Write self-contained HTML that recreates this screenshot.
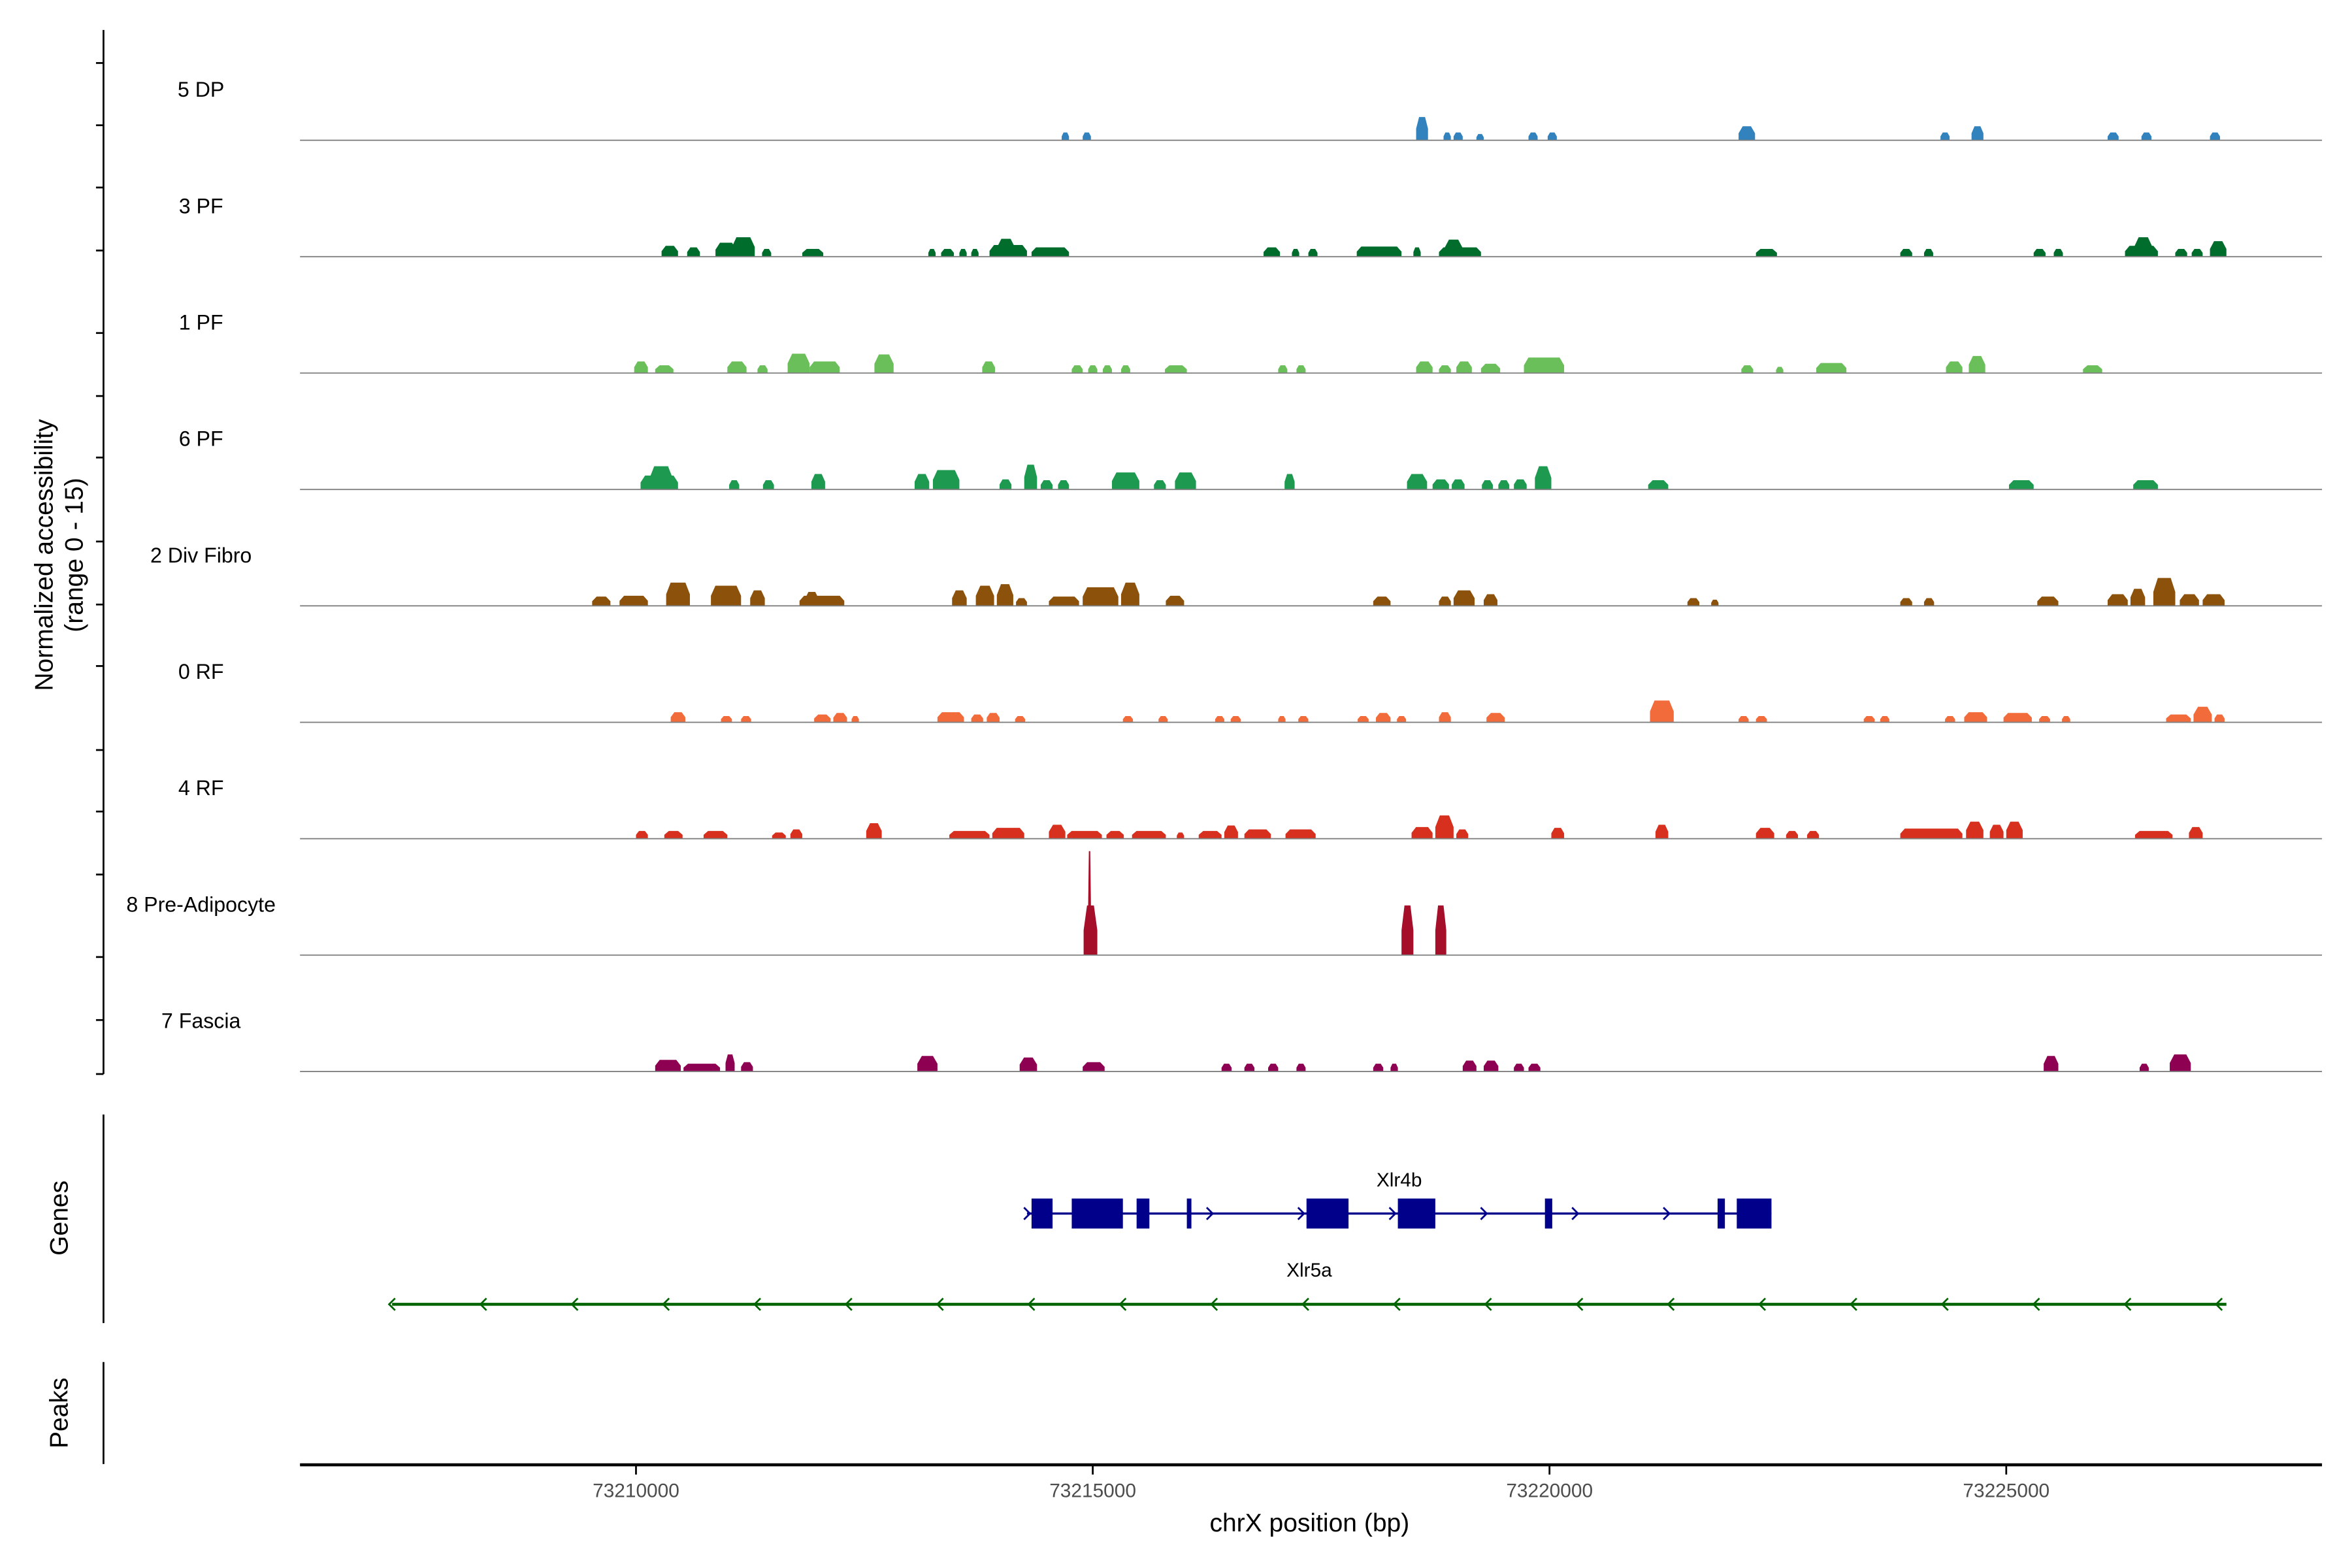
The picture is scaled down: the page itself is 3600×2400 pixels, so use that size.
<!DOCTYPE html>
<html><head><meta charset="utf-8"><style>
html,body{margin:0;padding:0;background:#fff;}
svg{display:block;font-family:"Liberation Sans",Arial,sans-serif;}
</style></head><body>
<svg id="chart" width="3600" height="2400" viewBox="0 0 1568 1045.3" preserveAspectRatio="none" xmlns="http://www.w3.org/2000/svg">
<rect x="0" y="0" width="1568" height="1046" fill="#fff"/>
<g id="tracks"></g>
<line x1="69" y1="20" x2="69" y2="716" stroke="#000" stroke-width="1.2"/>
<g id="yticks"></g>
<text transform="translate(35,370) rotate(-90)" text-anchor="middle" font-size="17">Normalized accessibility</text>
<text transform="translate(55,370) rotate(-90)" text-anchor="middle" font-size="17">(range 0 - 15)</text>
<line x1="69" y1="743" x2="69" y2="882" stroke="#000" stroke-width="1.2"/>
<text transform="translate(45,812) rotate(-90)" text-anchor="middle" font-size="17">Genes</text>
<line x1="69" y1="908" x2="69" y2="976" stroke="#000" stroke-width="1.2"/>
<text transform="translate(45,942) rotate(-90)" text-anchor="middle" font-size="17">Peaks</text>
<g id="genes"></g>
<line x1="200" y1="976.5" x2="1548" y2="976.5" stroke="#000" stroke-width="2"/>
<g id="xticks"></g>
<text x="873" y="1021" text-anchor="middle" font-size="17">chrX position (bp)</text>
</svg>
<script>
// ---- data (positions in kb relative to 73210000, heights in normalized accessibility 0-15) ----
const trackNames = ["5 DP","3 PF","1 PF","6 PF","2 Div Fibro","0 RF","4 RF","8 Pre-Adipocyte","7 Fascia"];
const trackColors = ["#3182bd","#006d2c","#6abf5a","#1d9a50","#8c510a","#f26b3a","#d7301f","#a50f2a","#8e0152"];
const xTickValues = [73210000,73215000,73220000,73225000];
const xTickLabels = ["73210000","73215000","73220000","73225000"];
const dp5 = [[4.66,4.74,1],[4.89,4.98,1],[8.54,8.67,3],[8.84,8.92,1],[8.95,9.05,1],[9.2,9.28,0.8],[9.77,9.87,1],[9.98,10.08,1],[12.07,12.25,1.8],[14.28,14.38,1],[14.62,14.75,1.8],[16.11,16.23,1],[16.48,16.59,1],[17.23,17.34,1]];
const pf3 = [[0.28,0.46,1.4],[0.56,0.70,1.2],[0.87,1.1,1.8],[1.05,1.30,2.5],[1.38,1.48,1],[1.82,2.05,1],[3.20,3.28,1],[3.34,3.48,1],[3.54,3.62,1],[3.67,3.75,1],[3.87,4.28,1.5],[3.95,4.15,2.3],[4.33,4.74,1.2],[6.87,7.05,1.2],[7.18,7.26,1],[7.36,7.46,1],[7.89,8.38,1.3],[8.51,8.59,1.2],[8.79,9.25,1.2],[8.85,9.05,2.2],[12.26,12.49,1],[13.84,13.97,1],[14.10,14.20,1],[15.30,15.43,1],[15.52,15.62,1],[16.30,16.66,1.4],[16.40,16.60,2.5],[16.85,16.98,1],[17.03,17.15,1],[17.23,17.41,2]];
const pf1 = [[-0.02,0.13,1.5],[0.21,0.41,1],[1.00,1.21,1.5],[1.33,1.44,1],[1.66,1.90,2.5],[1.90,2.23,1.5],[2.61,2.82,2.4],[3.79,3.93,1.5],[4.77,4.89,1],[4.95,5.05,1],[5.11,5.21,1],[5.31,5.41,1],[5.79,6.03,1],[7.03,7.13,1],[7.23,7.33,1],[8.54,8.72,1.5],[8.79,8.92,1],[8.98,9.15,1.5],[9.25,9.46,1.2],[9.72,10.16,2],[12.10,12.23,1],[12.48,12.56,0.8],[12.92,13.25,1.3],[14.34,14.52,1.5],[14.59,14.77,2.2],[15.84,16.05,1]];
const pf6 = [[0.05,0.46,1.8],[0.15,0.40,3],[1.02,1.13,1.2],[1.39,1.51,1.2],[1.92,2.07,2],[3.05,3.21,2],[3.25,3.54,2.5],[3.98,4.11,1.3],[4.25,4.39,3.2],[4.43,4.56,1.2],[4.62,4.74,1.2],[5.21,5.51,2.2],[5.67,5.80,1.2],[5.90,6.13,2.2],[7.10,7.21,2],[8.44,8.66,2],[8.72,8.90,1.3],[8.93,9.07,1.3],[9.26,9.38,1.2],[9.44,9.56,1.2],[9.61,9.75,1.3],[9.84,10.02,3],[11.08,11.30,1.2],[15.03,15.30,1.2],[16.39,16.66,1.2]];
const divFibro2 = [[-0.48,-0.28,1.2],[-0.18,0.13,1.3],[0.33,0.59,3],[0.82,1.15,2.6],[1.25,1.41,2],[1.79,2.28,1.3],[1.85,2.0,1.8],[3.46,3.62,2],[3.72,3.92,2.6],[3.95,4.13,2.8],[4.16,4.28,1],[4.52,4.85,1.2],[4.89,5.28,2.4],[5.31,5.51,3],[5.80,6.00,1.3],[8.07,8.26,1.2],[8.79,8.92,1.2],[8.95,9.18,2],[9.28,9.43,1.5],[11.51,11.64,1],[11.77,11.85,0.8],[13.84,13.97,1],[14.10,14.21,1],[15.34,15.57,1.2],[16.11,16.33,1.5],[16.36,16.52,2.2],[16.61,16.85,3.6],[16.90,17.11,1.5],[17.15,17.39,1.5]];
const rf0 = [[0.38,0.54,1.3],[0.93,1.05,0.8],[1.15,1.26,0.8],[1.95,2.13,1],[2.16,2.31,1.2],[2.36,2.44,0.8],[3.30,3.59,1.3],[3.67,3.80,1],[3.84,3.98,1.2],[4.15,4.26,0.8],[5.33,5.44,0.8],[5.72,5.82,0.8],[6.34,6.44,0.8],[6.51,6.62,0.8],[7.03,7.11,0.8],[7.25,7.36,0.8],[7.90,8.02,0.8],[8.10,8.26,1.2],[8.33,8.43,0.8],[8.79,8.92,1.3],[9.31,9.51,1.2],[11.10,11.36,2.8],[12.07,12.18,0.8],[12.26,12.38,0.8],[13.44,13.56,0.8],[13.62,13.72,0.8],[14.33,14.44,0.8],[14.54,14.79,1.3],[14.97,15.28,1.2],[15.36,15.48,0.8],[15.61,15.70,0.8],[16.75,17.02,1],[17.05,17.25,2],[17.28,17.39,1]];
const rf4 = [[0,0.13,1],[0.31,0.51,1],[0.74,1.00,1],[1.49,1.64,0.8],[1.69,1.82,1.2],[2.52,2.69,2],[3.43,3.87,1],[3.90,4.25,1.4],[4.52,4.70,1.8],[4.72,5.10,1],[5.15,5.34,1],[5.43,5.80,1],[5.92,6.00,0.8],[6.16,6.41,1],[6.44,6.59,1.7],[6.66,6.95,1.2],[7.11,7.44,1.2],[8.49,8.72,1.5],[8.75,8.95,3],[8.98,9.11,1.2],[10.02,10.16,1.4],[11.16,11.30,1.8],[12.26,12.46,1.4],[12.59,12.72,1],[12.82,12.95,1],[13.84,14.52,1.3],[14.56,14.75,2.2],[14.82,14.97,1.8],[15.00,15.18,2.2],[16.41,16.82,1],[17.00,17.15,1.5]];
const preAdipocyte8 = [[4.90,5.05,6.4],[4.95,4.98,13.4],[8.38,8.51,6.4],[8.75,8.87,6.4]];
const fascia7 = [[0.21,0.49,1.5],[0.52,0.92,1],[0.98,1.08,2.2],[1.15,1.28,1.2],[3.08,3.30,2],[4.20,4.39,1.8],[4.89,5.13,1.2],[6.41,6.52,1],[6.66,6.77,1],[6.92,7.03,1],[7.23,7.33,1],[8.07,8.18,1],[8.26,8.34,1],[9.05,9.20,1.4],[9.28,9.44,1.4],[9.61,9.72,1],[9.77,9.90,1],[15.41,15.57,2],[16.46,16.56,1],[16.79,17.02,2.2]];
const trackData = [dp5,pf3,pf1,pf6,divFibro2,rf0,rf4,preAdipocyte8,fascia7];
const xlr4bExons = [[4.33,4.56],[4.77,5.33],[5.48,5.62],[6.03,6.08],[7.34,7.80],[8.34,8.75],[9.95,10.03],[11.84,11.92],[12.05,12.43]];
const xlr4bSpan = [4.28,12.43];
const xlr5aSpan = [-2.67,17.41];

// ---- scales ----
const NS = "http://www.w3.org/2000/svg";
function xScale(bp){ return 424 + (bp - 73210000) * (1033 - 424) / 10000; }
function xKb(kb){ return xScale(73210000 + kb * 1000); }
const baseline0 = 93.5, trackStep = 77.6, pxPerUnit = 5.17;
function yScale(i, v){ return baseline0 + trackStep * i - v * pxPerUnit; }
function mk(tag, attrs, parent){ const e = document.createElementNS(NS, tag); for (const k in attrs) e.setAttribute(k, attrs[k]); parent.appendChild(e); return e; }

// ---- tracks ----
const tracksG = document.getElementById('tracks');
trackNames.forEach((name, i) => {
  const g = mk('g', {}, tracksG);
  
  
  const by = yScale(i, 0);
  trackData[i].forEach(p => {
    const x0 = xKb(p[0]), x1 = xKb(p[1]), yt = yScale(i, p[2]);
    const w = x1 - x0, ins = Math.min(w * 0.25, 3), ym = yScale(i, p[2] * 0.5);
    const poly = mk('polygon', {points: `${x0},${by} ${x0},${ym} ${x0+ins},${yt} ${x1-ins},${yt} ${x1},${ym} ${x1},${by}`, fill: trackColors[i]}, g);
    
    
  });
  const bl = mk('line', {x1: 200, x2: 1548, y1: by, y2: by, stroke: '#808080', 'stroke-width': 0.8}, g);
  
  
  const lab = mk('text', {x: 134, y: yScale(i, 0) - 29, 'text-anchor': 'middle', 'font-size': 14}, g);
  lab.textContent = name;
  
  
});

// ---- y ticks (decorative) ----
const ytG = document.getElementById('yticks');
[42,83.5,125,167,222,264,305,361,403,444,500,541,583,638,680,716].forEach(y => {
  const t = mk('line', {x1: 64, x2: 69, y1: y, y2: y, stroke: '#000', 'stroke-width': 1.2}, ytG);
  
  
});

// ---- x ticks ----
const xtG = document.getElementById('xticks');
xTickValues.forEach((v, i) => {
  const x = xScale(v);
  const t = mk('line', {x1: x, x2: x, y1: 977, y2: 983, stroke: '#000', 'stroke-width': 1.2}, xtG);
  
  
  const l = mk('text', {x: x, y: 998, 'text-anchor': 'middle', 'font-size': 13, fill: '#4d4d4d'}, xtG);
  l.textContent = xTickLabels[i];
  
  
});

// ---- genes ----
const gG = document.getElementById('genes');
function drawGene(name, span, exons, y, color, dir, labelY){
  const g = mk('g', {}, gG);
  
  
  mk('line', {x1: xKb(span[0]), x2: xKb(span[1]), y1: y, y2: y, stroke: color, 'stroke-width': dir > 0 ? 1.5 : 2}, g);
  exons.forEach(e => {
    const r = mk('rect', {x: xKb(e[0]), y: y - 10, width: xKb(e[1]) - xKb(e[0]), height: 20, fill: color}, g);
    
    
  });
  for (let k = span[0]; k <= span[1] + 0.01; k += 1) {
    if (exons.some(e => k > e[0] + 0.02 && k < e[1] - 0.02)) continue;
    const x = xKb(k);
    const a = mk('polyline', {points: dir > 0 ? `${x-2},${y-4} ${x+2},${y} ${x-2},${y+4}` : `${x+2},${y-4} ${x-2},${y} ${x+2},${y+4}`, fill: 'none', stroke: color, 'stroke-width': 1.2}, g);
    
    
  }
  const t = mk('text', {x: (xKb(span[0]) + xKb(span[1])) / 2, y: labelY, 'text-anchor': 'middle', 'font-size': 13}, g);
  t.textContent = name;
  
  
}
drawGene('Xlr4b', xlr4bSpan, xlr4bExons, 809, '#00008b', 1, 791);
drawGene('Xlr5a', xlr5aSpan, [], 869.5, '#006400', -1, 851);
</script>
</body></html>
